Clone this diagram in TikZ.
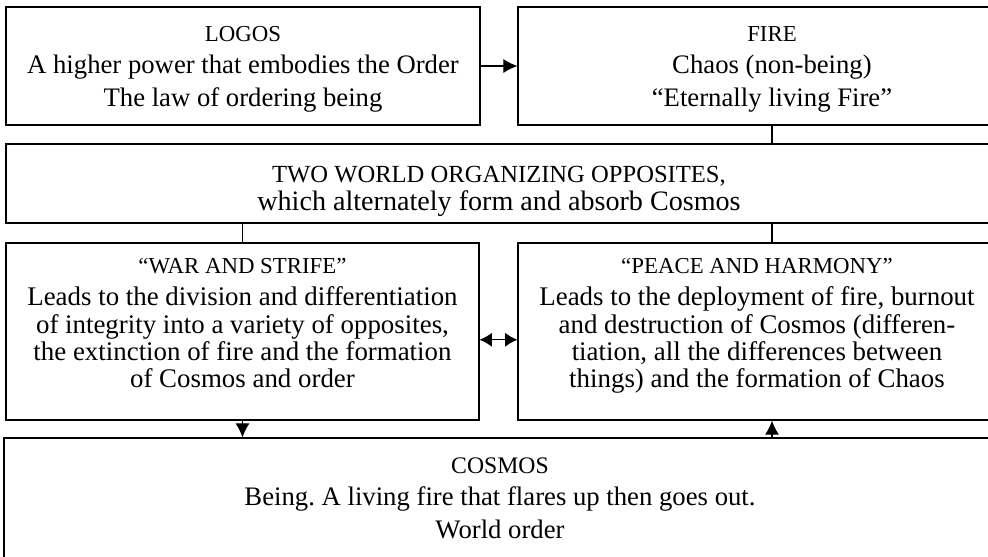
\documentclass[tikz,border=0pt]{standalone}
\usepackage{fontspec}
\setmainfont{Liberation Serif}
\usetikzlibrary{arrows.meta}
\newcommand\ttl{\fontsize{13}{14}\selectfont}
\frenchspacing

\begin{document}
\begin{tikzpicture}[x=0.02cm,y=-0.02cm,
    box/.style={draw,line width=0.7pt,inner sep=0pt,align=flush center,
      font=\fontsize{15.2}{18.7}\selectfont},
    link/.style={line width=0.7pt},
    arr/.style={link,-{Latex[length=8pt,width=8pt]}},
    darr/.style={link,{Latex[length=7pt,width=8pt]}-{Latex[length=7pt,width=8pt]}}]
    \useasboundingbox (0,0) rectangle (988,556);
    \node[box,text width=9.48cm,text height=0.68cm,text depth=1.68cm](logos) at (243,66)
      {{\ttl LOGOS}\\A higher power that embodies the Order\\The law of ordering being};
    \node[box,text width=10.16cm,text height=0.68cm,text depth=1.68cm](fire) at (772,66)
      {{\ttl FIRE}\\Chaos (non-being)\\“Eternally living Fire”};
    \node[box,text width=19.72cm,text height=0.76cm,text depth=0.82cm,
      font=\fontsize{16}{16}\selectfont](two) at (499,183.5)
      {{\fontsize{14}{14}\selectfont TWO WORLD ORGANIZING OPPOSITES,}\\which alternately form and absorb Cosmos};
    \node[box,text width=9.46cm,text height=0.6cm,text depth=2.94cm,
      font=\fontsize{15.3}{15.6}\selectfont](war) at (242.5,331.5)
      {{\ttl “WAR AND STRIFE”}\\[3pt]Leads to the division and differentiation\\
       of integrity into a variety of opposites,\\the extinction of fire and the formation\\
       of Cosmos and order};
    \node[box,text width=9.56cm,text height=0.6cm,text depth=2.94cm,
      font=\fontsize{15.3}{15.6}\selectfont](peace) at (757,331.5)
      {{\ttl “PEACE AND HARMONY”}\\[3pt]Leads to the deployment of fire, burnout\\
       and destruction of Cosmos (differen-\\tiation, all the differences between\\
       things) and the formation of Chaos};
    \node[box,text width=19.84cm,text height=0.7cm,text depth=1.74cm](cosmos) at (500,499)
      {{\fontsize{13.5}{14}\selectfont COSMOS}\\Being. A living fire that flares up then goes out.\\World order};

    \draw[arr]  (logos) -- (fire);
    \draw[link] (fire.south) -- (fire.south |- two.north);
    \draw[link] (war.north |- two.south) -- (war.north);
    \draw[link] (two.south -| fire) -- (peace.north -| fire);
    \draw[darr] (war.-2.4) -- (war.-2.4 -| peace.west);
    \draw[arr]  (war.south) -- (war.south |- cosmos.north);
    \draw[arr]  (cosmos.north -| fire) -- (peace.south -| fire);
\end{tikzpicture}
\end{document}
